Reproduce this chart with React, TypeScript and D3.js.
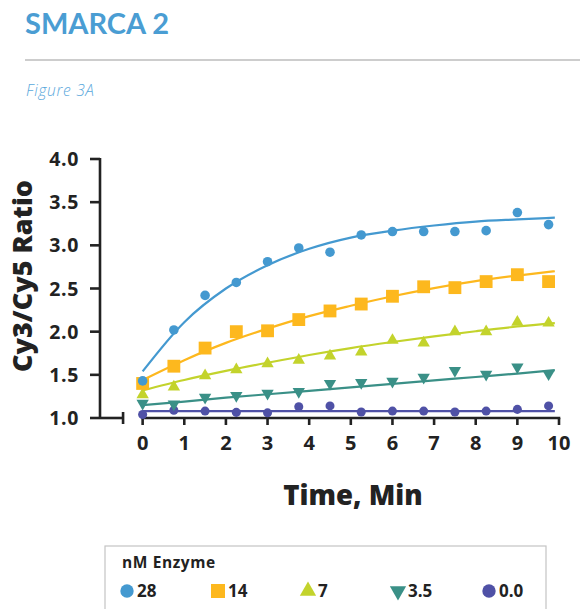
import React from "react";
import * as d3 from "d3";

const time = [0, 0.75, 1.5, 2.25, 3, 3.75, 4.5, 5.25, 6, 6.75, 7.5, 8.25, 9, 9.75];
const s28 = [1.43, 2.02, 2.42, 2.57, 2.81, 2.97, 2.92, 3.12, 3.16, 3.16, 3.16, 3.17, 3.38, 3.24];
const s14 = [1.4, 1.6, 1.81, 2.0, 2.01, 2.14, 2.24, 2.32, 2.41, 2.52, 2.51, 2.58, 2.66, 2.58];
const s7 = [1.27, 1.36, 1.49, 1.56, 1.63, 1.67, 1.72, 1.765, 1.9, 1.87, 2.0, 2.0, 2.11, 2.1];
const s35 = [1.17, 1.16, 1.24, 1.26, 1.285, 1.305, 1.4, 1.41, 1.425, 1.47, 1.55, 1.505, 1.59, 1.51];
const s0 = [1.04, 1.09, 1.08, 1.065, 1.06, 1.13, 1.14, 1.07, 1.08, 1.08, 1.07, 1.08, 1.1, 1.14];

const fitTime = [0, 1, 2, 3, 4, 5, 6, 7, 8, 9, 9.9];
const f28 = [1.54, 2.11, 2.5, 2.77, 2.96, 3.09, 3.17, 3.23, 3.275, 3.3, 3.32];
const f14 = [1.44, 1.67, 1.87, 2.035, 2.18, 2.3, 2.41, 2.505, 2.585, 2.65, 2.7];
const f7 = [1.32, 1.44, 1.545, 1.64, 1.73, 1.81, 1.88, 1.945, 2.005, 2.06, 2.1];
const f35 = [1.15, 1.19, 1.235, 1.275, 1.315, 1.355, 1.395, 1.435, 1.475, 1.515, 1.555];
const f0 = [1.08, 1.08, 1.08, 1.08, 1.08, 1.08, 1.08, 1.08, 1.08, 1.08, 1.08];

const seriesNames = ["28", "14", "7", "3.5", "0.0"];
const yTicks = [1.0, 1.5, 2.0, 2.5, 3.0, 3.5, 4.0];
const xTicks = [0, 1, 2, 3, 4, 5, 6, 7, 8, 9, 10];

const TITLE_FONT = "Lato, 'Open Sans', sans-serif";
const FONT = "'Open Sans', Lato, sans-serif";
const DARK = "#222222";

type Series = {
  name: string;
  values: number[];
  fit: number[];
  color: string;
  shape: d3.SymbolType;
  size: number;
  legendSize: number;
  rotate: number;
};

const series: Series[] = [
  { name: seriesNames[0], values: s28, fit: f28, color: "#4499d0", shape: d3.symbolCircle, size: 72, legendSize: 140, rotate: 0 },
  { name: seriesNames[1], values: s14, fit: f14, color: "#fdb81e", shape: d3.symbolSquare, size: 165, legendSize: 196, rotate: 0 },
  { name: seriesNames[2], values: s7, fit: f7, color: "#c3d32c", shape: d3.symbolTriangle, size: 66, legendSize: 115, rotate: 0 },
  { name: seriesNames[3], values: s35, fit: f35, color: "#3a9087", shape: d3.symbolTriangle, size: 66, legendSize: 115, rotate: 180 },
  { name: seriesNames[4], values: s0, fit: f0, color: "#4f51a6", shape: d3.symbolCircle, size: 64, legendSize: 140, rotate: 0 },
];

export default function App() {
  const W = 580;
  const H = 609;
  const x = d3.scaleLinear().domain([-1, 10]).range([101, 559]);
  const y = d3.scaleLinear().domain([1, 4]).range([418, 159]);
  const line = d3
    .line<number>()
    .x((_, i) => x(fitTime[i]))
    .y((d) => y(d))
    .curve(d3.curveMonotoneX);

  const drawOrder = [...series].reverse();
  const legendX = [127, 218, 308, 398, 489];

  return (
    <svg width={W} height={H} style={{ position: "absolute", left: 0, top: 0 }} fontFamily={FONT}>
      <rect width={W} height={H} fill="#ffffff" />
      <text x={25} y={34} fontSize={29} fontWeight={700} fill="#4a9dd3" fontFamily={TITLE_FONT}>SMARCA 2</text>
      <line x1={25} x2={580} y1={60} y2={60} stroke="#bdbdbd" strokeWidth={1.5} />
      <text x={26} y={95.5} fontSize={15.5} fontWeight={300} fontStyle="italic" letterSpacing={0.7} fill="#5aa8dc">Figure 3A</text>

      {/* y axis */}
      <line x1={100} x2={100} y1={158} y2={419} stroke={DARK} strokeWidth={2.6} />
      {yTicks.map((t) => (
        <g key={t}>
          <line x1={90} x2={100} y1={y(t)} y2={y(t)} stroke={DARK} strokeWidth={2.6} />
          <text x={79} y={y(t)} dy="0.36em" textAnchor="end" fontSize={19.5} fontWeight={700} letterSpacing={0.6} fill={DARK}>
            {d3.format(".1f")(t)}
          </text>
        </g>
      ))}
      {/* x axis with break */}
      <line x1={x(-1) - 1} x2={x(-0.45)} y1={y(1)} y2={y(1)} stroke={DARK} strokeWidth={2.6} />
      <line x1={x(-0.47)} x2={x(-0.47)} y1={y(1) - 6} y2={y(1) + 6} stroke={DARK} strokeWidth={2.6} />
      <line x1={x(0) - 1.3} x2={x(10) + 1.3} y1={y(1)} y2={y(1)} stroke={DARK} strokeWidth={2.6} />
      {xTicks.map((t) => (
        <g key={t}>
          <line x1={x(t)} x2={x(t)} y1={y(1)} y2={y(1) + 7} stroke={DARK} strokeWidth={2.6} />
          <text x={x(t)} y={450} textAnchor="middle" fontSize={20} fontWeight={700} fill={DARK}>
            {t}
          </text>
        </g>
      ))}
      <text x={353} y={505} textAnchor="middle" fontSize={27.5} fontWeight={800} fill={DARK}>Time, Min</text>
      <text
        transform={`translate(22,${276}) rotate(-90)`}
        textAnchor="middle"
        dy="0.36em"
        fontSize={27}
        fontWeight={800}
        fill={DARK}
      >
        Cy3/Cy5 Ratio
      </text>

      {/* series */}
      {drawOrder.map((s) => (
        <g key={s.name}>
          <path d={line(s.fit) || ""} fill="none" stroke={s.color} strokeWidth={2.2} />
          {s.values.map((v, i) => (
            <path
              key={i}
              d={d3.symbol().type(s.shape).size(s.size)() || ""}
              transform={`translate(${x(time[i])},${y(v)}) rotate(${s.rotate})`}
              fill={s.color}
            />
          ))}
        </g>
      ))}

      {/* legend */}
      <rect x={105} y={546} width={441} height={80} fill="none" stroke="#c4c4c4" strokeWidth={1.2} />
      <text x={122} y={568} fontSize={15.5} fontWeight={700} letterSpacing={0.6} fill={DARK}>nM Enzyme</text>
      {series.map((s, i) => (
        <g key={s.name}>
          <path
            d={d3.symbol().type(s.shape).size(s.legendSize)() || ""}
            transform={`translate(${legendX[i]},${591}) rotate(${s.rotate})`}
            fill={s.color}
          />
          <text x={legendX[i] + 10} y={597} fontSize={17} fontWeight={700} fill={DARK}>
            {s.name}
          </text>
        </g>
      ))}
    </svg>
  );
}
